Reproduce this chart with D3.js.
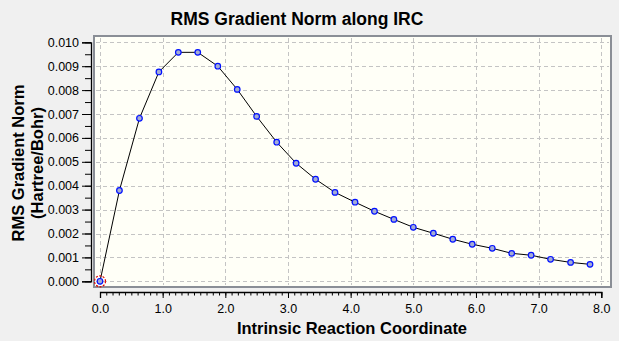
<!DOCTYPE html>
<html><head><meta charset="utf-8">
<script src="https://cdn.jsdelivr.net/npm/d3@7"></script>
<style>
html,body{margin:0;padding:0;background:#f0f0f0;}
svg{display:block;font-family:"Liberation Sans",Arial,sans-serif;}
</style></head>
<body>
<svg id="c" width="619" height="341"></svg>
<script>
const title = "RMS Gradient Norm along IRC";
const xLabel = "Intrinsic Reaction Coordinate";
const yLabel1 = "RMS Gradient Norm";
const yLabel2 = "(Hartree/Bohr)";
const xValues = [0.00, 0.31, 0.63, 0.94, 1.25, 1.56, 1.88, 2.19, 2.50, 2.82, 3.13, 3.44, 3.75, 4.07, 4.38, 4.69, 5.00, 5.32, 5.63, 5.94, 6.26, 6.57, 6.88, 7.19, 7.51, 7.82];
const yValues = [0.00000, 0.00380, 0.00682, 0.00876, 0.00958, 0.00958, 0.00900, 0.00803, 0.00690, 0.00582, 0.00494, 0.00427, 0.00372, 0.00331, 0.00293, 0.00259, 0.00226, 0.00201, 0.00176, 0.00155, 0.00138, 0.00117, 0.00109, 0.00092, 0.00079, 0.00071];
const xTicks = [0,1,2,3,4,5,6,7,8];
const yTicks = [0,0.001,0.002,0.003,0.004,0.005,0.006,0.007,0.008,0.009,0.010];

const svg = d3.select("#c");
const x = d3.scaleLinear().domain([0,8]).range([100,601.3]);
const y = d3.scaleLinear().domain([0,0.010]).range([281.3,42.3]);

// plot area
svg.append("rect").attr("x",94).attr("y",36).attr("width",517).attr("height",251)
  .attr("fill","#fffff7").attr("stroke","#8a8e96").attr("stroke-width",2);

// grid
const g = svg.append("g").attr("stroke","#c4c4c4").attr("stroke-width",1).attr("stroke-dasharray","4,3");
g.selectAll(".gx").data(xTicks).join("line")
  .attr("x1",d=>Math.round(x(d))+0.5).attr("x2",d=>Math.round(x(d))+0.5)
  .attr("y1",38).attr("y2",285);
g.selectAll(".gy").data(yTicks).join("line")
  .attr("y1",d=>Math.round(y(d))+0.5).attr("y2",d=>Math.round(y(d))+0.5)
  .attr("x1",96).attr("x2",609);

// y axis
const yMinor = d3.range(0,0.01001,0.0005);
svg.append("g").attr("transform","translate(91,0)")
  .call(d3.axisLeft(y).tickValues(yTicks).tickFormat(d3.format(".3f")).tickSize(9).tickPadding(3));
svg.append("g").attr("transform","translate(91,0)")
  .call(d3.axisLeft(y).tickValues(yMinor).tickFormat("").tickSize(6))
  .select(".domain").remove();
// x axis
const xMinor = d3.range(0,8.001,0.1);
svg.append("g").attr("transform","translate(0,292)")
  .call(d3.axisBottom(x).tickValues(xTicks).tickFormat(d3.format(".1f")).tickSize(6).tickPadding(6));
svg.append("g").attr("transform","translate(0,292)")
  .call(d3.axisBottom(x).tickValues(xMinor).tickFormat("").tickSize(3.5))
  .select(".domain").remove();
svg.selectAll(".domain").attr("stroke","#000").attr("stroke-width",1.3);
svg.selectAll(".tick line").attr("stroke","#000");
svg.selectAll(".tick text").attr("font-size",12.5).attr("fill","#000")
  .attr("font-family","'Liberation Sans',Arial,sans-serif");

// line
const line = d3.line().x((d,i)=>x(xValues[i])).y(d=>y(d));
svg.append("path").datum(yValues).attr("d",line).attr("fill","none")
  .attr("stroke","#000").attr("stroke-width",1);

// red marker at first point
svg.append("circle").attr("cx",x(xValues[0])).attr("cy",y(yValues[0])).attr("r",5.5)
  .attr("fill","none").attr("stroke","#e00000").attr("stroke-width",1.2).attr("stroke-dasharray","2,1.5");

// points
svg.selectAll(".pt").data(yValues).join("circle")
  .attr("cx",(d,i)=>x(xValues[i])).attr("cy",d=>y(d)).attr("r",2.8)
  .attr("fill","#a4acd4").attr("stroke","#0010ff").attr("stroke-width",1.2);

// titles
svg.append("text").attr("x",297).attr("y",25).attr("text-anchor","middle")
  .attr("font-size",17.5).attr("font-weight","bold").attr("fill","#000").text(title);
svg.append("text").attr("x",352).attr("y",334).attr("text-anchor","middle")
  .attr("font-size",16.5).attr("font-weight","bold").attr("fill","#000").text(xLabel);
svg.append("text").attr("transform","translate(24,163) rotate(-90)").attr("text-anchor","middle")
  .attr("font-size",16.5).attr("font-weight","bold").attr("fill","#000").text(yLabel1);
svg.append("text").attr("transform","translate(43,163) rotate(-90)").attr("text-anchor","middle")
  .attr("font-size",16.5).attr("font-weight","bold").attr("fill","#000").text(yLabel2);
</script>
</body></html>
